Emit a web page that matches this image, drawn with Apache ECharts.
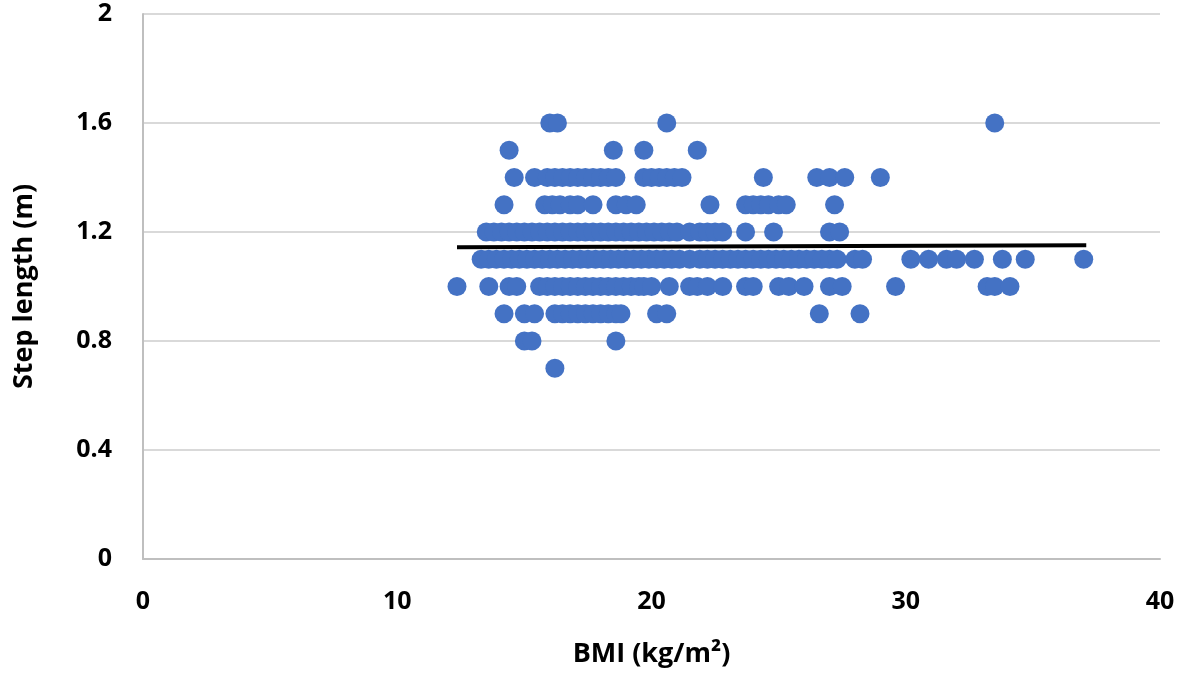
<!DOCTYPE html>
<html>
<head>
<meta charset="utf-8">
<script src="https://cdn.jsdelivr.net/npm/echarts@6/dist/echarts.min.js"></script>
<style>
html,body{margin:0;padding:0;background:#fff;}
#chart{width:1181px;height:673px;}
</style>
</head>
<body>
<div id="chart"></div>
<script>
// Step length rows (m) and BMI values
const row16 = [16.0, 16.3, 20.6, 33.5];
const row15 = [14.4, 18.5, 19.7, 21.8];
const row14 = [14.6, 15.4, 15.9, 16.2, 16.5, 16.8, 17.1, 17.4, 17.7, 18.0, 18.3, 18.6,
  19.7, 20.0, 20.3, 20.6, 20.9, 21.2, 24.4, 26.5, 27.0, 27.6, 29.0];
const row13 = [14.2, 15.8, 16.1, 16.4, 16.8, 17.1, 17.7, 18.6, 19.0, 19.4, 22.3,
  23.7, 24.0, 24.3, 24.6, 25.0, 25.3, 27.2];
const row12 = [13.5, 13.8, 14.1, 14.4, 14.7, 15.0, 15.3, 15.6, 15.9, 16.2, 16.5, 16.8,
  17.1, 17.4, 17.7, 18.0, 18.3, 18.6, 18.9, 19.2, 19.5, 19.8, 20.1, 20.4, 20.7, 21.0,
  21.5, 21.9, 22.2, 22.5, 22.8, 23.7, 24.8, 27.0, 27.4];
const row11 = [13.3, 13.6, 13.9, 14.2, 14.5, 14.8, 15.1, 15.4, 15.7, 16.0, 16.3, 16.6,
  16.9, 17.2, 17.5, 17.8, 18.1, 18.4, 18.7, 19.0, 19.3, 19.6, 19.9, 20.2, 20.5, 20.8,
  21.1, 21.5, 21.9, 22.2, 22.5, 22.8, 23.1, 23.4, 23.7, 24.0, 24.3, 24.6, 24.9, 25.2,
  25.5, 25.8, 26.1, 26.4, 26.7, 27.0, 27.3, 28.0, 28.3, 30.2, 30.9, 31.6, 32.0, 32.7,
  33.8, 34.7, 37.0];
const row10 = [12.35, 13.6, 14.4, 14.7, 15.6, 15.9, 16.2, 16.5, 16.8, 17.1, 17.4, 17.7,
  18.0, 18.3, 18.6, 18.9, 19.2, 19.5, 19.7, 20.0, 20.7, 21.5, 21.8, 22.2, 22.8, 23.7,
  24.0, 25.0, 25.4, 26.0, 27.0, 27.5, 29.6, 33.2, 33.5, 34.1];
const row09 = [14.2, 15.0, 15.4, 16.2, 16.5, 16.8, 17.1, 17.4, 17.7, 18.0, 18.3, 18.6,
  18.8, 20.2, 20.6, 26.6, 28.2];
const row08 = [15.0, 15.3, 18.6];
const row07 = [16.2];

const stepLevels = [1.6, 1.5, 1.4, 1.3, 1.2, 1.1, 1.0, 0.9, 0.8, 0.7];
const bmiRows = [row16, row15, row14, row13, row12, row11, row10, row09, row08, row07];

// Linear trendline end points
const trendX = [12.35, 37.1];
const trendY = [1.144, 1.151];

const points = [];
bmiRows.forEach((r, i) => r.forEach(b => points.push([b, stepLevels[i]])));

const chart = echarts.init(document.getElementById('chart'), null, {renderer: 'canvas'});
const tickFont = {fontFamily: 'Open Sans', fontWeight: 'bold', fontSize: 25, color: '#000'};
const titleFont = {fontFamily: 'Open Sans', fontWeight: 'bold', fontSize: 27, color: '#000'};
chart.setOption({
  animation: false,
  backgroundColor: '#fff',
  grid: {left: 143, right: 21, top: 14, bottom: 113, containLabel: false},
  xAxis: {
    type: 'value', min: 0, max: 40, interval: 10,
    name: 'BMI (kg/m²)', nameLocation: 'middle', nameGap: 82,
    nameTextStyle: titleFont,
    axisLine: {show: true, onZero: false, lineStyle: {color: '#bfbfbf', width: 2}},
    axisTick: {show: false},
    splitLine: {show: false},
    axisLabel: Object.assign({margin: 30}, tickFont)
  },
  yAxis: {
    type: 'value', min: 0, max: 2, interval: 0.4,
    name: 'Step length (m)', nameLocation: 'middle', nameGap: 105,
    nameTextStyle: titleFont,
    axisLine: {show: true, lineStyle: {color: '#bfbfbf', width: 2}},
    axisTick: {show: false},
    splitLine: {show: true, lineStyle: {color: '#d9d9d9', width: 2}},
    axisLabel: Object.assign({margin: 31, formatter: v => String(+v.toFixed(1))}, tickFont)
  },
  series: [
    {
      type: 'scatter', data: points, symbolSize: 19,
      itemStyle: {color: '#4472C4', opacity: 1}, z: 2
    },
    {
      type: 'line', data: trendX.map((x, i) => [x, trendY[i]]),
      symbol: 'none', lineStyle: {color: '#000', width: 4}, z: 3
    }
  ]
});
</script>
</body>
</html>
